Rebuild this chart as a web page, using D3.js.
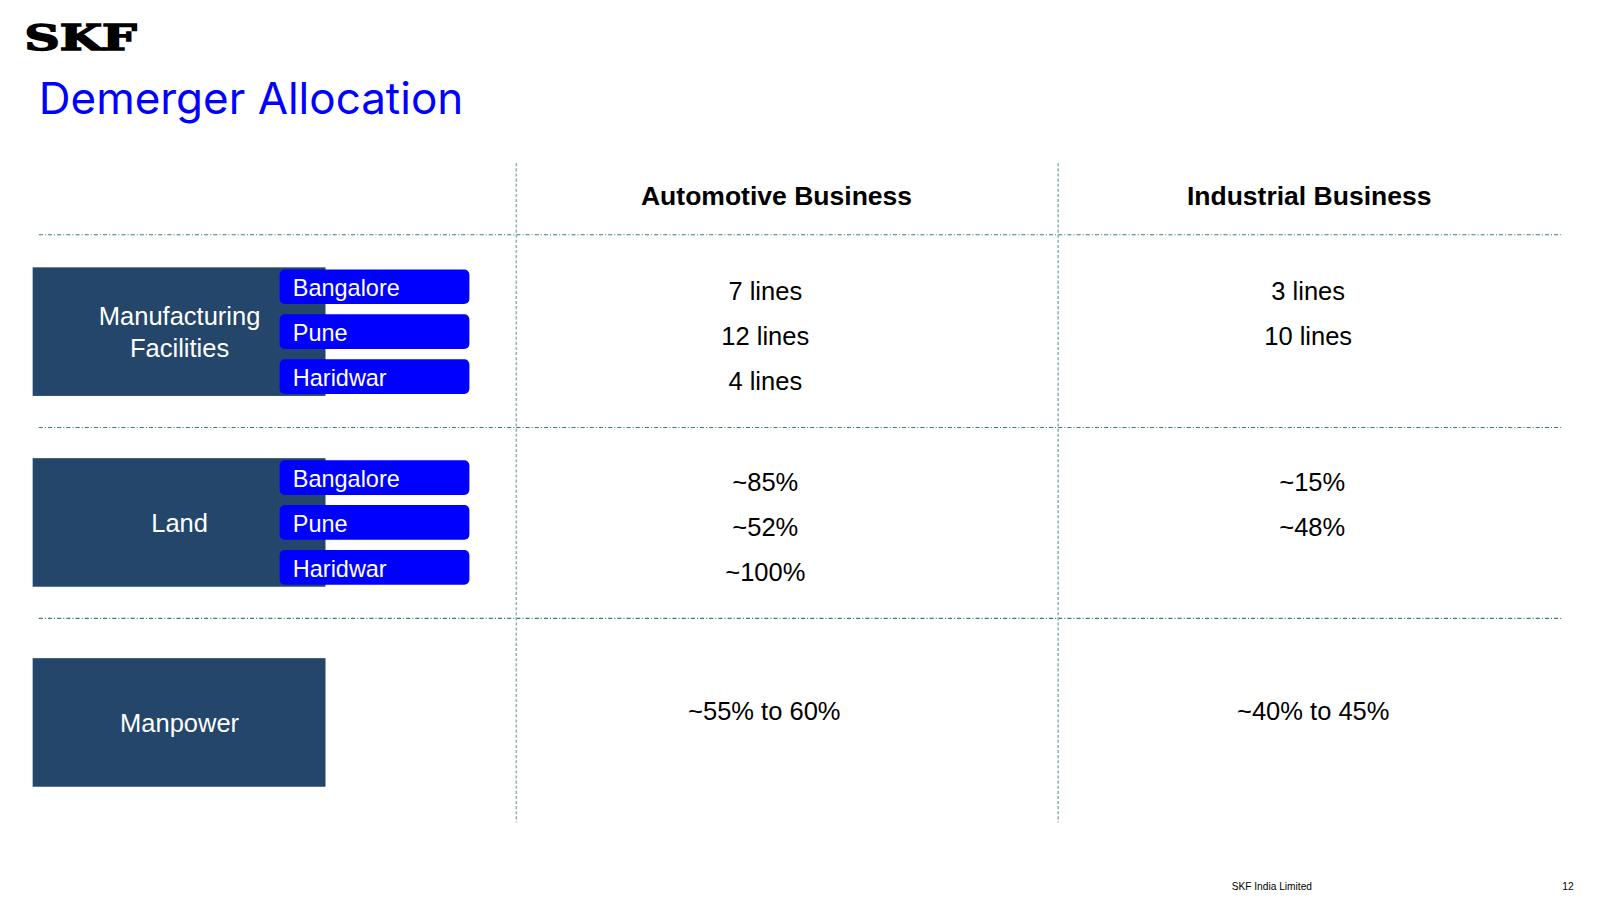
<!DOCTYPE html>
<html><head><meta charset="utf-8">
<script src="https://cdn.jsdelivr.net/npm/d3@7"></script>
<style>body{margin:0;background:#fff}svg{display:block}</style>
</head><body>
<svg id="chart" width="1600" height="900" viewBox="0 0 1568 882" preserveAspectRatio="none"></svg>
<script>
var columns = ['Automotive Business', 'Industrial Business'];
var groups = ['Manufacturing Facilities', 'Land', 'Manpower'];
var locations = ['Bangalore', 'Pune', 'Haridwar'];
var automotiveValues = [['7 lines', '12 lines', '4 lines'], ['~85%', '~52%', '~100%'], ['~55% to 60%']];
var industrialValues = [['3 lines', '10 lines', ''], ['~15%', '~48%', ''], ['~40% to 45%']];

var svg = d3.select('#chart');
var font = 'Liberation Sans, Arial, sans-serif';

// header
svg.append('text').attr('x', 24).attr('y', 49).text('SKF')
  .style('font-family', 'DejaVu Serif, serif').style('font-weight', 900)
  .style('font-size', '34px').attr('stroke', '#000').attr('stroke-width', 1.5)
  .attr('textLength', 110).attr('lengthAdjust', 'spacingAndGlyphs');
svg.append('text').attr('x', 38).attr('y', 112).text('Demerger Allocation')
  .style('font-family', 'Inter, sans-serif').style('font-size', '43px').attr('fill', '#0000ff')
  .attr('textLength', 416).attr('lengthAdjust', 'spacingAndGlyphs');

var colX = d3.scaleOrdinal().domain(columns).range([750, 1282]);

// grid
var hLines = [230, 419, 606];
svg.selectAll('line.h').data(hLines).enter().append('line')
  .attr('x1', 38).attr('x2', 1530).attr('y1', function (d) { return d; }).attr('y2', function (d) { return d; })
  .attr('stroke', '#3c7a80').attr('stroke-width', 1).attr('stroke-dasharray', '4,2,1,2');
svg.selectAll('line.v').data([506, 1037]).enter().append('line')
  .attr('x1', function (d) { return d; }).attr('x2', function (d) { return d; })
  .attr('y1', 160).attr('y2', 806)
  .attr('stroke', '#8fb0b5').attr('stroke-width', 1.5).attr('stroke-dasharray', '3,2');

svg.selectAll('text.col').data(columns).enter().append('text')
  .attr('x', function (d, i) { return [761, 1283][i]; }).attr('y', 201)
  .attr('text-anchor', 'middle').text(function (d) { return d; })
  .style('font-family', font).style('font-weight', 'bold').style('font-size', '26px');

var boxTops = [262, 449, 645];
groups.forEach(function (g, gi) {
  var top = boxTops[gi];
  svg.append('rect').attr('x', 32).attr('y', top).attr('width', 287).attr('height', 126).attr('fill', '#23466a');
  var words = g === 'Manufacturing Facilities' ? ['Manufacturing', 'Facilities'] : [g];
  var t = svg.append('text').attr('x', 176).attr('text-anchor', 'middle').attr('fill', '#fff')
    .style('font-family', font).style('font-size', '25px');
  words.forEach(function (w, wi) {
    t.append('tspan').attr('x', 176).attr('y', top + 72 + (wi - (words.length - 1) / 2) * 31).text(w);
  });
  var auto = automotiveValues[gi], ind = industrialValues[gi];
  if (auto.length === 1) {
    svg.append('text').attr('x', 749).attr('y', top + 61).attr('text-anchor', 'middle').text(auto[0])
      .style('font-family', font).style('font-size', '25px');
    svg.append('text').attr('x', 1287).attr('y', top + 61).attr('text-anchor', 'middle').text(ind[0])
      .style('font-family', font).style('font-size', '25px');
    return;
  }
  locations.forEach(function (loc, li) {
    var y = top + 2 + li * 44;
    svg.append('rect').attr('x', 274).attr('y', y).attr('width', 186).attr('height', 34)
      .attr('rx', 5).attr('fill', '#0000ff');
    svg.append('text').attr('x', 287).attr('y', y + 26).text(loc).attr('fill', '#fff')
      .style('font-family', font).style('font-size', '23px');
    svg.append('text').attr('x', colX(columns[0])).attr('y', y + 30).attr('text-anchor', 'middle')
      .text(auto[li]).style('font-family', font).style('font-size', '25px');
    svg.append('text').attr('x', colX(columns[1]) + (gi === 1 ? 4 : 0)).attr('y', y + 30).attr('text-anchor', 'middle')
      .text(ind[li]).style('font-family', font).style('font-size', '25px');
  });
});

svg.append('text').attr('x', 1207).attr('y', 872).text('SKF India Limited')
  .style('font-family', font).style('font-size', '10px');
svg.append('text').attr('x', 1531).attr('y', 872).text('12')
  .style('font-family', font).style('font-size', '10px');
</script>
</body></html>
